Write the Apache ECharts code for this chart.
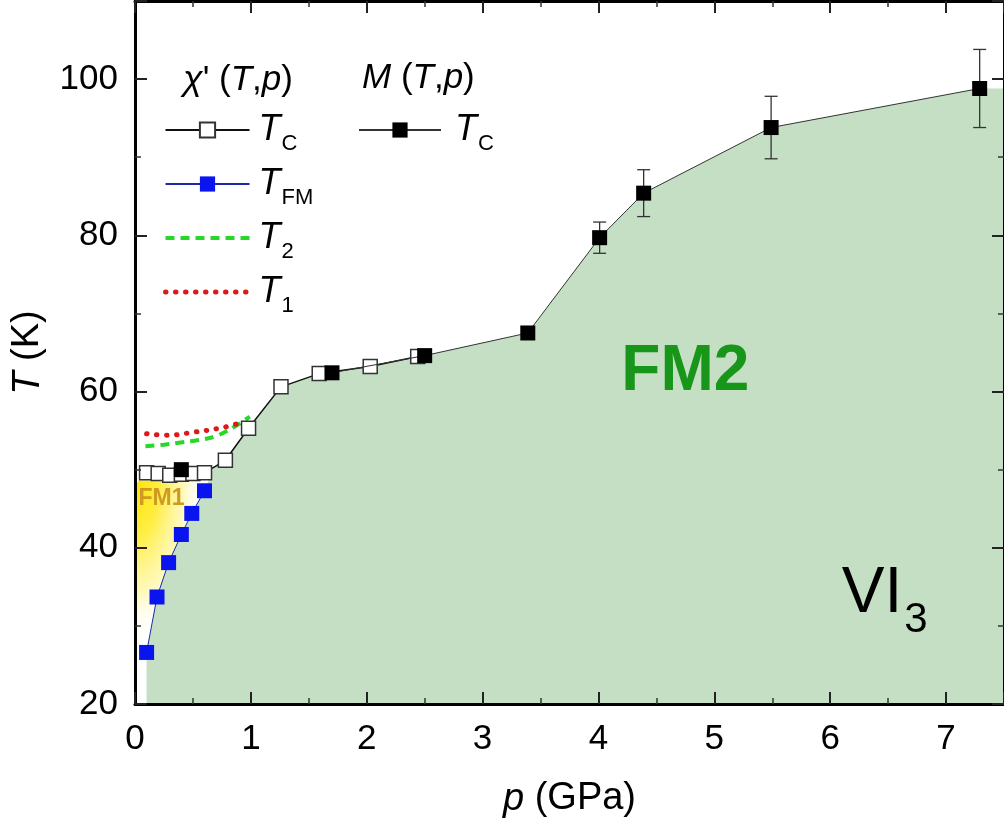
<!DOCTYPE html>
<html>
<head>
<meta charset="utf-8">
<script src="https://cdn.jsdelivr.net/npm/echarts@6/dist/echarts.min.js"></script>
<style>
  html, body { margin: 0; padding: 0; background: #fff; }
  #chart { width: 1004px; height: 828px; }
</style>
</head>
<body>
<div id="chart"></div>
<script>
// VI3 pressure–temperature phase diagram.
// Pressure p in GPa, temperature T in K.

// chi'(T,p): Curie temperature (open squares)
const chiTcP = [0.1, 0.2, 0.3, 0.4, 0.5, 0.6, 0.78, 0.98, 1.26, 1.59, 2.03, 2.44];
const chiTcT = [49.6, 49.5, 49.3, 49.4, 49.5, 49.6, 51.2, 55.3, 60.6, 62.3, 63.2, 64.5];

// chi'(T,p): T_FM (blue squares)
const tfmP = [0.1, 0.19, 0.29, 0.4, 0.49, 0.6];
const tfmT = [26.6, 33.7, 38.1, 41.7, 44.4, 47.3];

// chi'(T,p): T2 (dashed) and T1 (dotted)
const t2P = [0.09, 0.25, 0.41, 0.55, 0.7, 0.87, 0.99];
const t2T = [53.0, 53.2, 53.5, 53.8, 54.3, 55.6, 56.8];
const t1P = [0.1, 0.27, 0.51, 0.76, 0.93];
const t1T = [54.6, 54.4, 54.8, 55.4, 56.1];

// M(T,p): Curie temperature with uncertainty (filled squares)
const mTcP = [0.4, 1.7, 2.5, 3.39, 4.01, 4.39, 5.49, 7.29];
const mTcT = [50.0, 62.4, 64.6, 67.5, 79.7, 85.4, 93.8, 98.8];
const mTcErr = [0, 0, 0, 0, 2.0, 3.0, 4.0, 5.0];

// Upper edge of the FM2 region
const fm2EdgeP = [0.1, 0.19, 0.29, 0.4, 0.49, 0.6, 0.68, 0.78, 0.98, 1.26, 1.59, 1.7, 2.03, 2.5, 3.39, 4.01, 4.39, 5.49, 7.29, 7.5];
const fm2EdgeT = [26.6, 33.7, 38.1, 41.7, 44.4, 47.3, 50.3, 51.2, 55.3, 60.6, 62.3, 62.4, 63.2, 64.6, 67.5, 79.7, 85.4, 93.8, 98.8, 98.8];

// FM1 pocket: pressure span and temperature span
const fm1P = [0, 0.7];
const fm1T = [20, 48.6];

// Region labels and their anchor points
const regionNames = ['FM1', 'FM2', 'VI3'];
const regionP = [0.03, 4.75, 6.1];
const regionT = [46.3, 62.4, 34.1];

// Axis ranges
const pRange = [0, 7.5];
const pStep = 1;
const tRange = [20, 110];
const tStep = 20;

const FONT = '"Liberation Sans", Arial, Helvetica, sans-serif';
const pairs = (xs, ys) => xs.map((x, i) => [x, ys[i]]);

// M(T,p) line: the low-pressure point stands apart from the rest
const mLine = [[mTcP[0], mTcT[0]], [(mTcP[0] + mTcP[1]) / 2, '-']].concat(
  pairs(mTcP.slice(1), mTcT.slice(1)));

const GREEN_DASH = { color: '#27d827', width: 4, type: [9, 6] };
const RED_DOT = { color: '#dd1a1a', width: 5, type: [0.5, 9.5], cap: 'round' };

const subRich = (pad) => ({
  t: { fontFamily: FONT, fontSize: 36, fontStyle: 'italic', lineHeight: 40, color: '#000', padding: [0, 0, 0, pad] },
  s: { fontFamily: FONT, fontSize: 22, lineHeight: 22, color: '#000', padding: [28, 0, 0, 1] }
});
const legendLabel = {
  "χ' TC": ['T', 'C'], "χ' TFM": ['T', 'FM'], "χ' T2": ['T', '2'], "χ' T1": ['T', '1'], 'M TC': ['T', 'C']
};
const legendFormatter = (name) => `{t|${legendLabel[name][0]}}{s|${legendLabel[name][1]}}`;

const axisCommon = {
  type: 'value',
  z: 10,
  axisLine: { show: true, onZero: false, lineStyle: { color: '#000', width: 3 } },
  axisTick: { show: true, inside: true, length: 12, lineStyle: { color: '#222', width: 2 } },
  minorTick: { show: true, splitNumber: 2, length: 6, lineStyle: { color: '#333', width: 1.5 } },
  splitLine: { show: false },
  minorSplitLine: { show: false }
};

const chart = echarts.init(document.getElementById('chart'), null, { renderer: 'canvas' });

chart.setOption({
  backgroundColor: '#fff',
  animation: false,
  grid: { left: 135, right: -4, top: 1, bottom: 124, containLabel: false },
  xAxis: [
    Object.assign({}, axisCommon, {
      position: 'bottom', min: pRange[0], max: pRange[1], interval: pStep,
      axisLabel: { show: true, margin: 18, color: '#000', fontFamily: FONT, fontSize: 35, showMaxLabel: false },
      name: '{i|p} (GPa)', nameLocation: 'middle', nameGap: 76,
      nameTextStyle: { fontFamily: FONT, fontSize: 38, color: '#000', rich: { i: { fontFamily: FONT, fontSize: 38, fontStyle: 'italic', color: '#000' } } }
    }),
    Object.assign({}, axisCommon, {
      position: 'top', min: pRange[0], max: pRange[1], interval: pStep,
      axisLabel: { show: false }
    })
  ],
  yAxis: [
    Object.assign({}, axisCommon, {
      position: 'left', min: tRange[0], max: tRange[1], interval: tStep,
      axisLabel: { show: true, margin: 17, color: '#000', fontFamily: FONT, fontSize: 35, showMaxLabel: false },
      name: '{i|T} (K)', nameLocation: 'middle', nameGap: 88, nameRotate: 90,
      nameTextStyle: { fontFamily: FONT, fontSize: 38, color: '#000', rich: { i: { fontFamily: FONT, fontSize: 38, fontStyle: 'italic', color: '#000' } } }
    }),
    Object.assign({}, axisCommon, {
      position: 'right', min: tRange[0], max: tRange[1], interval: tStep,
      axisLabel: { show: false }
    })
  ],
  legend: [
    {
      data: [
        "χ' TC",
        "χ' TFM",
        { name: "χ' T2", itemStyle: { opacity: 0 }, lineStyle: GREEN_DASH },
        { name: "χ' T1", itemStyle: { opacity: 0 }, lineStyle: RED_DOT }
      ],
      orient: 'vertical', left: 163, top: 105, padding: 0,
      itemWidth: 84, itemHeight: 19, itemGap: 4,
      selectedMode: false,
      formatter: legendFormatter,
      textStyle: { rich: subRich(4) }
    },
    {
      data: ['M TC'],
      orient: 'vertical', left: 358, top: 105, padding: 0,
      itemWidth: 82, itemHeight: 19, itemGap: 4,
      selectedMode: false,
      formatter: legendFormatter,
      textStyle: { rich: subRich(9) }
    }
  ],
  graphic: [
    {
      type: 'text', x: 183, y: 80, z: 20,
      style: {
        text: "{g|χ}{r|' (}{i|T}{r|,}{i|p}{r|)}",
        verticalAlign: 'middle', align: 'left',
        rich: {
          g: { fontFamily: FONT, fontSize: 36, fontStyle: 'italic', fill: '#000', color: '#000' },
          i: { fontFamily: FONT, fontSize: 35, fontStyle: 'italic', fill: '#000', color: '#000' },
          r: { fontFamily: FONT, fontSize: 35, fill: '#000', color: '#000' }
        }
      }
    },
    {
      type: 'text', x: 362, y: 78, z: 20,
      style: {
        text: '{i|M}{r| (}{i|T}{r|,}{i|p}{r|)}',
        verticalAlign: 'middle', align: 'left',
        rich: {
          i: { fontFamily: FONT, fontSize: 35, fontStyle: 'italic', fill: '#000', color: '#000' },
          r: { fontFamily: FONT, fontSize: 35, fill: '#000', color: '#000' }
        }
      }
    }
  ],
  series: [
    // FM1 pocket: yellow glow fading away from the low-pressure corner
    {
      type: 'custom', z: 1, silent: true,
      data: [[fm1P[0], fm1T[1], fm1P[1], fm1T[0]]],
      renderItem: (params, api) => {
        const tl = api.coord([api.value(0), api.value(1)]);
        const br = api.coord([api.value(2), api.value(3)]);
        const w = br[0] - tl[0];
        const h = br[1] - tl[1];
        const rx = api.size([0.6, 0])[0];
        const ry = api.size([0, 20.5])[1];
        const s = ry / rx;
        const hh = h / s;
        const R = rx / Math.min(w, hh);
        return {
          type: 'rect', x: tl[0], y: tl[1], scaleY: s,
          shape: { x: 0, y: 0, width: w, height: hh, r: [5, 0, 0, 0] },
          style: {
            fill: new echarts.graphic.RadialGradient(0, 0, R, [
              { offset: 0, color: 'rgba(255,228,0,1)' },
              { offset: 0.35, color: 'rgba(255,236,50,0.92)' },
              { offset: 0.7, color: 'rgba(255,246,150,0.65)' },
              { offset: 1, color: 'rgba(255,255,255,0)' }
            ])
          }
        };
      }
    },
    // FM2 region
    {
      type: 'line', z: 2, silent: true,
      data: pairs(fm2EdgeP, fm2EdgeT),
      symbol: 'none', showSymbol: false,
      lineStyle: { width: 0, opacity: 0 },
      areaStyle: { color: '#c4dfc4', opacity: 1, origin: 'start' }
    },
    // Region labels
    {
      type: 'custom', z: 3, silent: true,
      data: regionP.map((p, i) => [p, regionT[i], i]),
      renderItem: (params, api) => {
        const pt = api.coord([api.value(0), api.value(1)]);
        const name = regionNames[api.value(2)];
        if (name === 'FM1') {
          return {
            type: 'text', x: pt[0], y: pt[1],
            style: {
              text: 'FM1', fill: '#cf9a24',
              font: 'bold 23px ' + FONT, align: 'left', verticalAlign: 'middle',
              shadowBlur: 2, shadowColor: 'rgba(207,154,36,0.7)'
            }
          };
        }
        if (name === 'FM2') {
          return {
            type: 'text', x: pt[0], y: pt[1],
            style: {
              text: 'FM2', fill: '#17961a',
              font: 'bold 64px ' + FONT, align: 'center', verticalAlign: 'middle'
            }
          };
        }
        return {
          type: 'text', x: pt[0], y: pt[1],
          style: {
            text: '{a|VI}{b|3}', align: 'left', verticalAlign: 'middle',
            rich: {
              a: { fontFamily: FONT, fontSize: 64, lineHeight: 64, fill: '#000', color: '#000' },
              b: { fontFamily: FONT, fontSize: 42, lineHeight: 42, fill: '#000', color: '#000', padding: [54, 0, 0, 2] }
            }
          }
        };
      }
    },
    // T2
    {
      name: "χ' T2", type: 'line', z: 4,
      data: pairs(t2P, t2T), smooth: 0.4,
      symbol: 'none', showSymbol: false,
      lineStyle: GREEN_DASH,
      itemStyle: { color: GREEN_DASH.color }
    },
    // T1
    {
      name: "χ' T1", type: 'line', z: 4,
      data: pairs(t1P, t1T), smooth: 0.4,
      symbol: 'none', showSymbol: false,
      lineStyle: RED_DOT,
      itemStyle: { color: RED_DOT.color }
    },
    // chi' Tc
    {
      name: "χ' TC", type: 'line', z: 5,
      data: pairs(chiTcP, chiTcT),
      symbol: 'rect', symbolSize: 14,
      lineStyle: { color: '#111', width: 1.5 },
      itemStyle: { color: '#fff', borderColor: '#333', borderWidth: 1.5 }
    },
    // T_FM
    {
      name: "χ' TFM", type: 'line', z: 5,
      data: pairs(tfmP, tfmT),
      symbol: 'rect', symbolSize: 15,
      lineStyle: { color: '#1c2aa8', width: 1 },
      itemStyle: { color: '#0a14ee', borderColor: '#0a14ee', borderWidth: 0 }
    },
    // M(T,p) error bars
    {
      type: 'custom', z: 6, silent: true,
      data: mTcP.map((p, i) => [p, mTcT[i], mTcErr[i]]),
      encode: { x: 0, y: 1 },
      renderItem: (params, api) => {
        const p = api.value(0), t = api.value(1), e = api.value(2);
        if (!e) return null;
        const top = api.coord([p, t + e]);
        const bot = api.coord([p, t - e]);
        const c = 6.5;
        const st = { stroke: '#333', lineWidth: 1.3 };
        return {
          type: 'group',
          children: [
            { type: 'line', shape: { x1: top[0], y1: top[1], x2: bot[0], y2: bot[1] }, style: st },
            { type: 'line', shape: { x1: top[0] - c, y1: top[1], x2: top[0] + c, y2: top[1] }, style: st },
            { type: 'line', shape: { x1: bot[0] - c, y1: bot[1], x2: bot[0] + c, y2: bot[1] }, style: st }
          ]
        };
      }
    },
    // M(T,p) Tc
    {
      name: 'M TC', type: 'line', z: 7,
      data: mLine, connectNulls: false,
      symbol: 'rect', symbolSize: 15,
      lineStyle: { color: '#333', width: 1 },
      itemStyle: { color: '#000', borderColor: '#000', borderWidth: 0 }
    }
  ]
});
</script>
</body>
</html>
